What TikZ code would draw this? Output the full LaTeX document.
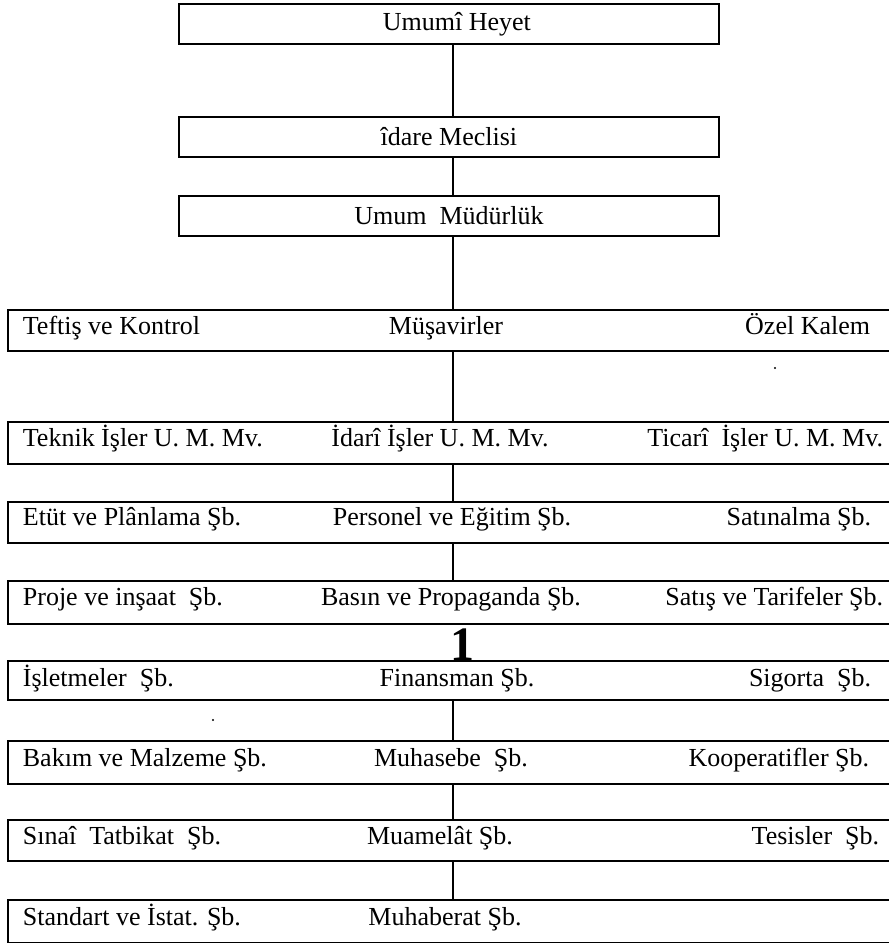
\documentclass[tikz,border=0pt]{standalone}
\usepackage{fontspec}
\setmainfont{Liberation Serif}
\begin{document}
\begin{tikzpicture}[x=1pt,y=-1pt,line width=1.8pt,
  txt/.style={inner sep=0pt,font=\fontsize{26}{28}\selectfont},
  topbox/.style={draw,rectangle,minimum width=540pt,minimum height=40pt,inner sep=0pt,anchor=north west,font=\fontsize{26}{28}\selectfont},
  rowframe/.style={rectangle,minimum width=881pt,minimum height=#1,inner sep=0pt,anchor=north west},
  bigone/.style={inner sep=0pt,font=\fontsize{48}{50}\selectfont\bfseries}]
\useasboundingbox (0,0) rectangle (889,943);
\coordinate (spine) at (453,0);
% top boxes
\node[topbox] (b1) at (178,3) {\hspace*{16pt}Umumî Heyet};
\node[topbox] (b2) at (178,116) {îdare Meclisi};
\node[topbox] (b3) at (178,195) {Umum\ \ Müdürlük};
% row frames
\node[rowframe=39pt] (r1) at (8,310) {};
\node[rowframe=40pt] (r2) at (8,422) {};
\node[rowframe=39pt] (r3) at (8,502) {};
\node[rowframe=41pt] (r4) at (8,581) {};
\node[rowframe=37pt] (r5) at (8,661) {};
\node[rowframe=41pt] (r6) at (8,741) {};
\node[rowframe=39pt] (r7) at (8,820) {};
\node[rowframe=41pt] (r8) at (8,900) {};
\foreach \r in {r1,r2,r3,r4,r5,r6,r7,r8}{
  \draw (\r.north east) -- (\r.north west) -- (\r.south west) -- (\r.south east);
}
% connectors
\draw (b1.south -| spine) -- (b2.north -| spine);
\draw (b2.south -| spine) -- (b3.north -| spine);
\draw (b3.south -| spine) -- (r1.north -| spine);
\draw (r1.south -| spine) -- (r2.north -| spine);
\draw (r2.south -| spine) -- (r3.north -| spine);
\draw (r3.south -| spine) -- (r4.north -| spine);
\draw (r5.south -| spine) -- (r6.north -| spine);
\draw (r6.south -| spine) -- (r7.north -| spine);
\draw (r7.south -| spine) -- (r8.north -| spine);
% row 1
\node[txt,anchor=mid west] (t1a) at (22,332) {Teftiş ve Kontrol};
\node[txt,anchor=mid] (t1b) at (446,332) {Müşavirler};
\node[txt,anchor=mid east] (t1c) at (871,332) {Özel Kalem};
% row 2
\node[txt,anchor=mid west] (t2a) at (22,444) {Teknik İşler U. M. Mv.};
\node[txt,anchor=mid] (t2b) at (440,444) {İdarî İşler U. M. Mv.};
\node[txt,anchor=mid east] (t2c) at (884,444) {Ticarî~ İşler U. M. Mv.};
% row 3
\node[txt,anchor=mid west] (t3a) at (22,523) {Etüt ve Plânlama Şb.};
\node[txt,anchor=mid] (t3b) at (452,523) {Personel ve Eğitim Şb.};
\node[txt,anchor=mid east] (t3c) at (872,523) {Satınalma Şb.};
% row 4
\node[txt,anchor=mid west] (t4a) at (22,603) {Proje ve inşaat\ \ Şb.};
\node[txt,anchor=mid] (t4b) at (451,603) {Basın ve Propaganda Şb.};
\node[txt,anchor=mid east] (t4c) at (884,603) {Satış ve Tarifeler Şb.};
% big one
\node[bigone,anchor=base] (one) at (462,660) {1};
% row 5
\node[txt,anchor=mid west] (t5a) at (22,684) {İşletmeler\ \ Şb.};
\node[txt,anchor=mid] (t5b) at (457,684) {Finansman Şb.};
\node[txt,anchor=mid east] (t5c) at (872,684) {Sigorta\ \ Şb.};
% row 6
\node[txt,anchor=mid west] (t6a) at (22,764) {Bakım ve Malzeme Şb.};
\node[txt,anchor=mid] (t6b) at (451,764) {Muhasebe\ \ Şb.};
\node[txt,anchor=mid east] (t6c) at (870,764) {Kooperatifler Şb.};
% row 7
\node[txt,anchor=mid west] (t7a) at (22,842) {Sınaî\ \ Tatbikat\ \ Şb.};
\node[txt,anchor=mid] (t7b) at (440,842) {Muamelât Şb.};
\node[txt,anchor=mid east] (t7c) at (880,842) {Tesisler\ \ Şb.};
% row 8
\node[txt,anchor=mid west] (t8a) at (22,923) {Standart ve İstat. Şb.};
\node[txt,anchor=mid] (t8b) at (445,923) {Muhaberat Şb.};
% specks
\fill (775,368) circle (1.2);
\fill (213,720) circle (1.2);
\end{tikzpicture}
\end{document}
